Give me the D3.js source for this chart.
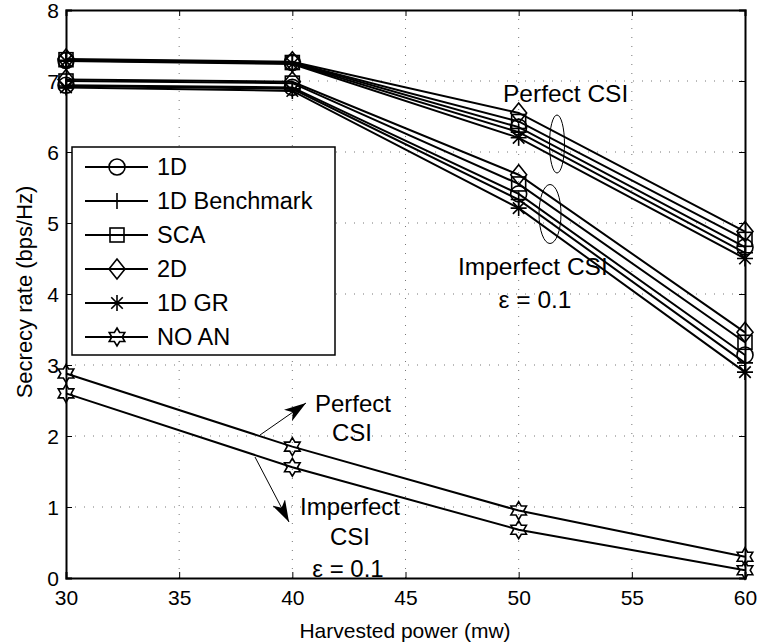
<!DOCTYPE html>
<html>
<head>
<meta charset="utf-8">
<script src="https://cdn.jsdelivr.net/npm/d3@7"></script>
<style>
  html, body { margin: 0; padding: 0; background: #fff; }
  text { font-family: "Liberation Sans", Arial, Helvetica, sans-serif; fill: #000; }
</style>
</head>
<body>
<svg id="chart" width="757" height="643"></svg>
<script>
// Harvested power (mW)
const powers = [30, 40, 50, 60];

// Schemes in legend order
const schemes = ["1D", "1D Benchmark", "SCA", "2D", "1D GR", "NO AN"];
const markerKinds = ["circle", "plus", "square", "diamond", "asterisk", "hexagram"];

// Secrecy rate (bps/Hz), perfect CSI
const perfect1D        = [7.29, 7.26, 6.35, 4.66];
const perfect1DBench   = [7.29, 7.25, 6.28, 4.58];
const perfectSCA       = [7.30, 7.26, 6.43, 4.77];
const perfect2D        = [7.31, 7.27, 6.55, 4.88];
const perfect1DGR      = [7.28, 7.24, 6.20, 4.50];
const perfectNoAN      = [2.88, 1.85, 0.95, 0.30];

// Secrecy rate (bps/Hz), imperfect CSI (epsilon = 0.1)
const imperfect1D      = [6.94, 6.91, 5.41, 3.14];
const imperfect1DBench = [6.93, 6.89, 5.33, 3.03];
const imperfectSCA     = [7.00, 6.97, 5.55, 3.32];
const imperfect2D      = [7.02, 6.99, 5.68, 3.46];
const imperfect1DGR    = [6.91, 6.86, 5.21, 2.90];
const imperfectNoAN    = [2.60, 1.56, 0.68, 0.11];

// Axis ticks
const xTicks = [30, 35, 40, 45, 50, 55, 60];
const yTicks = [0, 1, 2, 3, 4, 5, 6, 7, 8];

const perfectSets   = [perfect1D, perfect1DBench, perfectSCA, perfect2D, perfect1DGR, perfectNoAN];
const imperfectSets = [imperfect1D, imperfect1DBench, imperfectSCA, imperfect2D, imperfect1DGR, imperfectNoAN];

const svg = d3.select("#chart");
const L = 66, R = 745, T = 10, B = 578;

const x = d3.scaleLinear().domain([30, 60]).range([L, R]);
const y = d3.scaleLinear().domain([0, 8]).range([B, T]);

// dotted grid
const grid = svg.append("g").attr("stroke", "#777").attr("stroke-width", 1)
  .attr("stroke-dasharray", "1,8");
grid.selectAll("line.gx").data(xTicks.slice(1, -1)).join("line")
  .attr("x1", d => x(d)).attr("x2", d => x(d)).attr("y1", B).attr("y2", T);
grid.selectAll("line.gy").data(yTicks.slice(1, -1)).join("line")
  .attr("y1", d => y(d)).attr("y2", d => y(d)).attr("x1", L).attr("x2", R);

// axes with inward ticks on all four sides
const tickLen = 6;
const axB = svg.append("g").attr("transform", `translate(0,${B})`)
  .call(d3.axisBottom(x).tickValues(xTicks).tickSize(-tickLen).tickPadding(12));
const axT = svg.append("g").attr("transform", `translate(0,${T})`)
  .call(d3.axisTop(x).tickValues(xTicks).tickSize(-tickLen).tickFormat(""));
const axL = svg.append("g").attr("transform", `translate(${L},0)`)
  .call(d3.axisLeft(y).tickValues(yTicks).tickSize(-tickLen).tickPadding(7));
const axR = svg.append("g").attr("transform", `translate(${R},0)`)
  .call(d3.axisRight(y).tickValues(yTicks).tickSize(-tickLen).tickFormat(""));
[axB, axT, axL, axR].forEach(a => {
  a.select(".domain").attr("stroke", "#000").attr("stroke-width", 2);
  a.selectAll(".tick line").attr("stroke", "#000").attr("stroke-width", 1);
  a.selectAll(".tick text").attr("font-size", 21)
    .attr("font-family", "Liberation Sans, Arial, sans-serif").attr("fill", "#000");
});
axB.selectAll(".tick text").attr("dy", "0.71em");
axL.selectAll(".tick text").attr("dy", "0.38em");

// marker glyphs, unfilled
function drawMarker(g, kind, cx, cy) {
  const s = 16, h = s / 2;
  const m = g.append("g").attr("transform", `translate(${cx},${cy})`)
    .attr("fill", "none").attr("stroke", "#000").attr("stroke-width", 1.6);
  if (kind === "circle") {
    m.append("circle").attr("r", h);
  } else if (kind === "plus") {
    m.append("path").attr("d", `M${-h},0H${h}M0,${-h}V${h}`);
  } else if (kind === "square") {
    m.append("rect").attr("x", -h + 1).attr("y", -h + 1).attr("width", s - 2).attr("height", s - 2);
  } else if (kind === "diamond") {
    m.append("path").attr("d", `M0,${-h - 2}L${h},0L0,${h + 2}L${-h},0Z`);
  } else if (kind === "asterisk") {
    const a = h * 0.72;
    m.append("path").attr("d", `M${-h},0H${h}M0,${-h}V${h}M${-a},${-a}L${a},${a}M${-a},${a}L${a},${-a}`);
  } else if (kind === "hexagram") {
    const pts = [];
    for (let i = 0; i < 12; i++) {
      const ang = -Math.PI / 2 + i * Math.PI / 6;
      const r = i % 2 === 0 ? h + 1 : (h + 1) * 0.58;
      pts.push([r * Math.cos(ang), r * Math.sin(ang)]);
    }
    m.append("path").attr("d", "M" + pts.map(p => p.join(",")).join("L") + "Z");
  }
}

const line = d3.line().x((d, i) => x(powers[i])).y(d => y(d));
const plot = svg.append("g");

function drawSeries(values, kind) {
  plot.append("path").datum(values).attr("d", line)
    .attr("fill", "none").attr("stroke", "#000").attr("stroke-width", 2);
  values.forEach((v, i) => drawMarker(plot, kind, x(powers[i]), y(v)));
}
perfectSets.forEach((vals, k) => drawSeries(vals, markerKinds[k]));
imperfectSets.forEach((vals, k) => drawSeries(vals, markerKinds[k]));

// legend
const lg = svg.append("g");
lg.append("rect").attr("x", 72).attr("y", 147).attr("width", 263).attr("height", 208)
  .attr("fill", "#fff").attr("stroke", "#000").attr("stroke-width", 1.5);
schemes.forEach((name, k) => {
  const cy = 167 + k * 34;
  lg.append("line").attr("x1", 85).attr("x2", 148).attr("y1", cy).attr("y2", cy)
    .attr("stroke", "#000").attr("stroke-width", 2);
  drawMarker(lg, markerKinds[k], 117, cy);
  lg.append("text").attr("x", 157).attr("y", cy + 8).attr("font-size", 23.5).text(name);
});

// annotations
const ann = svg.append("g");
ann.append("ellipse").attr("cx", 557).attr("cy", 144).attr("rx", 7.5).attr("ry", 29)
  .attr("fill", "none").attr("stroke", "#000").attr("stroke-width", 1);
ann.append("ellipse").attr("cx", 550).attr("cy", 214).attr("rx", 11).attr("ry", 29.5)
  .attr("fill", "none").attr("stroke", "#000").attr("stroke-width", 1);

function label(tx, ty, str, size, anchor) {
  ann.append("text").attr("x", tx).attr("y", ty).attr("font-size", size)
    .attr("text-anchor", anchor || "start").text(str);
}
label(503, 102, "Perfect CSI", 24.5);
label(458, 275, "Imperfect CSI", 24.5);
label(535, 308, "ε = 0.1", 24.5, "middle");

label(353, 412, "Perfect", 24, "middle");
label(352, 441, "CSI", 24, "middle");
label(350, 515, "Imperfect", 24, "middle");
label(350, 545, "CSI", 24, "middle");
label(348, 577, "ε = 0.1", 24, "middle");

// arrows
svg.append("defs").append("marker").attr("id", "arrowhead")
  .attr("viewBox", "0 0 22 14").attr("refX", 22).attr("refY", 7)
  .attr("markerWidth", 22).attr("markerHeight", 14).attr("markerUnits", "userSpaceOnUse")
  .attr("orient", "auto")
  .append("path").attr("d", "M0,0L22,7L0,14L6,7Z").attr("fill", "#000");
ann.append("line").attr("x1", 260).attr("y1", 435).attr("x2", 306).attr("y2", 403)
  .attr("stroke", "#000").attr("stroke-width", 1).attr("marker-end", "url(#arrowhead)");
ann.append("line").attr("x1", 255).attr("y1", 457).attr("x2", 289).attr("y2", 522)
  .attr("stroke", "#000").attr("stroke-width", 1).attr("marker-end", "url(#arrowhead)");

// axis titles
svg.append("text").attr("x", 405).attr("y", 638).attr("text-anchor", "middle")
  .attr("font-size", 21).text("Harvested power (mw)");
svg.append("text").attr("transform", `translate(32,292) rotate(-90)`)
  .attr("text-anchor", "middle").attr("font-size", 22).text("Secrecy rate (bps/Hz)");
</script>
</body>
</html>
